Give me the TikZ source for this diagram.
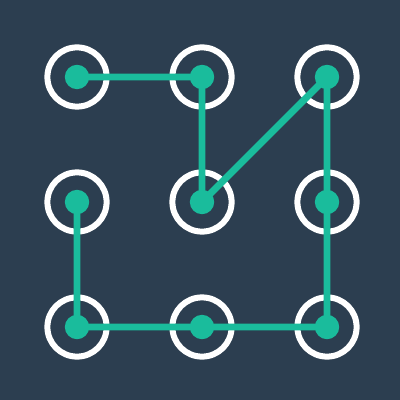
\documentclass[tikz,border=0pt]{standalone}
\usepackage{xcolor}
\definecolor{navy}{HTML}{2C3E50}
\definecolor{teal}{HTML}{1ABC9C}
\tikzset{
  ring/.style={circle,draw=white,line width=0.15cm,minimum size=1.48cm,inner sep=0pt},
  dot/.style={circle,fill=teal,minimum size=0.61cm,inner sep=0pt},
  trace/.style={draw=teal,line width=0.17cm}
}
\begin{document}
\begin{tikzpicture}[x=0.025cm,y=-0.025cm]
\def\l{125}
\fill[navy] (0,0) rectangle (400,400);
\useasboundingbox (0,0) rectangle (400,400);
% grid points
\foreach \i in {0,1,2}
  \foreach \j in {0,1,2}
    \coordinate (P\i\j) at ({77+\i*\l},{77+\j*\l});
% rings
\foreach \i in {0,1,2}
  \foreach \j in {0,1,2}
    \node[ring] (R\i\j) at (P\i\j) {};
% pattern
\draw[trace,line join=round] (P00) -- (P10) -- (P11) -- (P20) -- (P21) -- (P22)
  -- (P12) -- (P02) -- (P01);
% dots
\foreach \i in {0,1,2}
  \foreach \j in {0,1,2}
    \node[dot] (D\i\j) at (P\i\j) {};
\end{tikzpicture}
\end{document}
